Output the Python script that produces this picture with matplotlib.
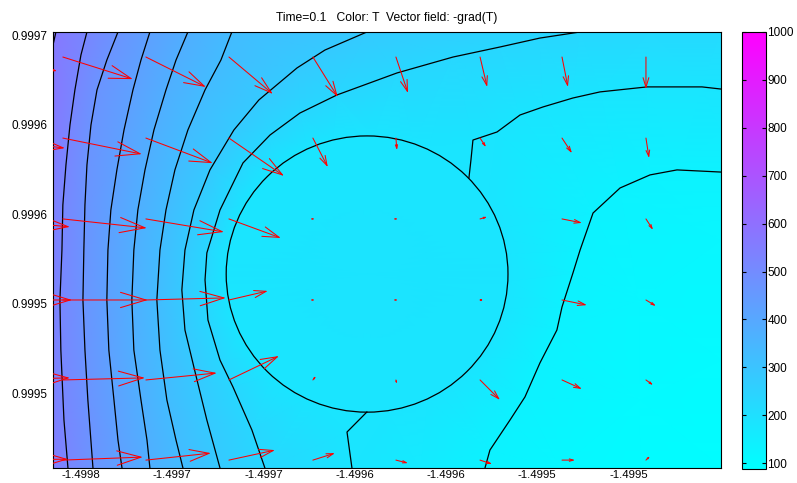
import numpy as np
import matplotlib
matplotlib.use('Agg')
import matplotlib.pyplot as plt
from matplotlib.patches import Circle, FancyArrowPatch, ArrowStyle
from matplotlib.path import Path
from matplotlib.tri import Triangulation

plt.rcParams['font.family'] = ['Liberation Sans', 'DejaVu Sans']
plt.rcParams['font.size'] = 8.5

title = 'Time=0.1   Color: T  Vector field: -grad(T)'

# all positions in micrometres, measured from x=-1.4998, y=0.9995
x_ticks = [0, 50, 100, 150, 200, 250, 300]
x_labels = ['-1.4998', '-1.4997', '-1.4997', '-1.4996', '-1.4996', '-1.4995', '-1.4995']
y_ticks = [200, 150, 100, 50, 0]
y_labels = ['0.9997', '0.9996', '0.9996', '0.9995', '0.9995']
x_range = (-15.3, 350.7)
y_range = (-41.9, 201.8)

T_min, T_max = 88, 1000
cbar_ticks = [100, 200, 300, 400, 500, 600, 700, 800, 900, 1000]

# contour lines of T
iso568_x = [-13.7, -15.3]
iso568_y = [201.8, 194.5]
iso520_x = [3.3, 0.0, -3.3, -6.0, -8.2, -9.9, -10.4, -11.5, -11.0, -9.3, -7.1]
iso520_y = [201.8, 188.9, 169.4, 149.8, 127.5, 105.1, 79.9, 52.0, 24.0, -15.1, -41.9]
iso472_x = [20.3, 14.2, 8.8, 5.5, 3.3, 2.2, 1.6, 1.1, 2.2, 3.8, 6.6]
iso472_y = [201.8, 186.1, 169.4, 149.8, 127.5, 105.1, 79.9, 52.0, 24.0, -3.9, -41.9]
iso424_x = [37.8, 32.9, 28.5, 23.6, 19.7, 16.4, 14.8, 14.2, 15.3, 18.1, 20.3, 22.5]
iso424_y = [201.8, 186.1, 169.4, 147.0, 124.7, 102.3, 79.9, 52.0, 24.0, -3.9, -26.3, -41.9]
iso376_x = [58.6, 52.1, 46.6, 40.0, 35.1, 31.2, 29.0, 27.9, 29.0, 32.9, 36.2, 37.8]
iso376_y = [201.8, 186.1, 169.4, 147.0, 124.7, 102.3, 79.9, 52.0, 24.0, -3.9, -26.3, -41.9]
iso328_x = [82.7, 76.7, 68.0, 58.6, 51.5, 46.6, 43.3, 41.6, 43.3, 47.1, 52.1, 55.9]
iso328_y = [201.8, 186.1, 169.4, 147.0, 124.7, 102.3, 79.9, 52.0, 24.0, -3.9, -26.3, -41.9]
iso280_x = [156.7, 133.7, 118.4, 97.5, 83.8, 70.7, 61.9, 57.0, 55.3, 57.0, 63.6, 69.0, 76.2]
iso280_y = [201.8, 191.7, 181.7, 163.8, 147.0, 124.7, 102.3, 79.9, 57.6, 35.2, 7.3, -15.1, -41.9]
iso232_x = [273.5, 251.5, 229.6, 203.9, 173.2, 140.3, 120.0, 103.6, 88.8, 76.2, 69.0, 68.0,
            69.6, 76.2, 83.3, 93.7, 100.8]
iso232_y = [201.8, 198.4, 193.4, 187.8, 178.9, 166.6, 156.5, 144.2, 128.6, 102.3, 78.3, 63.2,
            40.8, 18.4, 3.4, -20.7, -41.9]
iso184_x = [350.7, 340.3, 310.2, 284.4, 269.6, 253.2, 240.6, 228.0, 214.8, 213.7, 212.6]
iso184_y = [169.9, 171.1, 171.1, 168.3, 164.9, 159.9, 155.4, 145.9, 141.4, 130.2, 120.2]
iso184b_x = [156.7, 145.8, 148.5]
iso184b_y = [-10.6, -21.8, -41.9]
iso136_x = [350.7, 326.6, 311.8, 295.4, 280.6, 273.5, 269.6, 263.6, 260.8, 251.5, 243.3, 235.1, 224.1, 221.4]
iso136_y = [123.5, 124.7, 121.9, 114.6, 100.6, 79.9, 67.1, 48.1, 35.2, 16.8, -2.2, -15.1, -31.9, -41.9]

# the round subdomain sits on the 184 contour
circle_center = (156.8, 66.5)
circle_radius = 77.2
circle_T = 184

# a few more temperature readings (edges, corners, middle of the disc)
extra_x = [-15.3, -15.3, -15.3, -15.3, -15.3, -15.3, 311.8, 350.7, 350.7, 350.7, 350.7, 350.7,
           306.3, 262.5, 185.8, 305.8, 305.8, 156.8]
extra_y = [201.8, 163.8, 107.9, 52.0, -3.9, -41.9, 201.8, 201.8, 147.0, 85.5, 18.4, -41.9,
           -41.9, -41.9, -41.9, 52.0, -3.9, 66.5]
extra_T = [575, 566, 542, 535, 538, 549, 226, 222, 160, 118, 103, 92,
           100, 113, 160, 118, 108, 186]

# -grad(T) arrows, K/um, on the sampling grid
arrow_x = [-55.3, -9.9, 35.6, 81.1, 127.1, 172.6, 218.7, 263.6, 309.6]
arrow_y = [187.8, 142.5, 97.3, 52.0, 7.3, -37.5]
grad_x = [
    [3.25, 2.95, 2.53, 1.85, 1.05, 0.51, 0.30, 0.25, 0.00],
    [3.58, 3.33, 2.82, 2.32, 0.63, 0.04, 0.25, 0.42, 0.13],
    [3.79, 3.54, 3.29, 2.19, 0.02, 0.02, 0.30, 0.84, 0.30],
    [3.88, 3.58, 3.37, 1.64, 0.02, 0.02, 0.13, 1.05, 0.42],
    [3.79, 3.46, 2.99, 2.11, 0.13, 0.04, 0.84, 0.84, 0.30],
    [3.71, 3.37, 2.74, 1.94, 0.93, 0.51, 0.51, 0.55, 0.17],
]
grad_y = [
    [-0.60, -0.95, -1.29, -1.59, -1.72, -1.55, -1.29, -1.29, -1.38],
    [-0.43, -0.69, -1.08, -1.63, -1.25, -0.52, -0.39, -0.65, -0.86],
    [-0.34, -0.39, -0.56, -0.82, 0.00, 0.00, 0.09, -0.17, -0.47],
    [0.00, 0.00, 0.09, 0.39, 0.00, 0.00, 0.00, -0.22, -0.26],
    [0.09, 0.09, 0.30, 1.03, 0.17, -0.17, -0.86, -0.39, -0.22],
    [0.04, 0.13, 0.30, 0.43, 0.30, -0.13, -0.17, 0.00, 0.17],
]
ARROW_SCALE = 13.0

contour_lines = [
    (568, iso568_x, iso568_y), (520, iso520_x, iso520_y), (472, iso472_x, iso472_y),
    (424, iso424_x, iso424_y), (376, iso376_x, iso376_y), (328, iso328_x, iso328_y),
    (280, iso280_x, iso280_y), (232, iso232_x, iso232_y), (184, iso184_x, iso184_y),
    (184, iso184b_x, iso184b_y), (136, iso136_x, iso136_y),
]

fig = plt.figure(figsize=(7.97, 4.83), dpi=100)
ax = fig.add_axes([0.0665, 0.0311, 0.8381, 0.9027])
ax.set_xlim(*x_range)
ax.set_ylim(*y_range)

# surface colour: gouraud shading over all the readings
px, py, pt = list(extra_x), list(extra_y), list(extra_T)
for lev, xs, ys in contour_lines:
    px += xs
    py += ys
    pt += [lev] * len(xs)
ring = Path.circle(circle_center, circle_radius).to_polygons()[0]
px += list(ring[:, 0])
py += list(ring[:, 1])
pt += [circle_T] * len(ring)
pts = np.round(np.column_stack([px, py]), 3)
_, keep = np.unique(pts, axis=0, return_index=True)
keep = np.sort(keep)
tri = Triangulation(pts[keep, 0], pts[keep, 1])
surf = ax.tripcolor(tri, np.array(pt, dtype=float)[keep], cmap='cool', vmin=T_min, vmax=T_max,
                    shading='gouraud', zorder=1)

for lev, xs, ys in contour_lines:
    ax.plot(xs, ys, color='black', lw=0.9, zorder=2)
ax.add_patch(Circle(circle_center, circle_radius, fill=False, ec='black', lw=0.9, zorder=2))

for j, yv in enumerate(arrow_y):
    for i, xv in enumerate(arrow_x):
        x1 = xv + grad_x[j][i] * ARROW_SCALE
        y1 = yv + grad_y[j][i] * ARROW_SCALE
        a, b = ax.transData.transform([(xv, yv), (x1, y1)])
        length = np.hypot(*(b - a)) * 72 / fig.dpi
        style = ArrowStyle('->', head_length=max(0.3 * length, 0.2),
                           head_width=max(0.09 * length, 0.1))
        ax.add_patch(FancyArrowPatch((xv, yv), (x1, y1), arrowstyle=style, mutation_scale=1,
                                     color='red', lw=0.75, shrinkA=0, shrinkB=0, zorder=3))

ax.set_xticks(x_ticks)
ax.set_xticklabels(x_labels)
ax.set_yticks(y_ticks)
ax.set_yticklabels(y_labels)
ax.tick_params(axis='y', length=0, pad=4, labelsize=8.5)
ax.tick_params(axis='x', length=0, pad=1.5, labelsize=8.2)
for s in ax.spines.values():
    s.set_linewidth(0.8)
ax.set_title(title, fontsize=8.7, pad=8)

cax = fig.add_axes([0.931, 0.029, 0.0301, 0.905])
cb = fig.colorbar(surf, cax=cax, ticks=cbar_ticks)
cb.ax.yaxis.set_ticks_position('both')
cb.ax.tick_params(direction='in', length=3, labelsize=8.5, pad=1, labelleft=False, labelright=True)
cb.outline.set_linewidth(0.8)

fig.savefig('out.png', dpi=100)
